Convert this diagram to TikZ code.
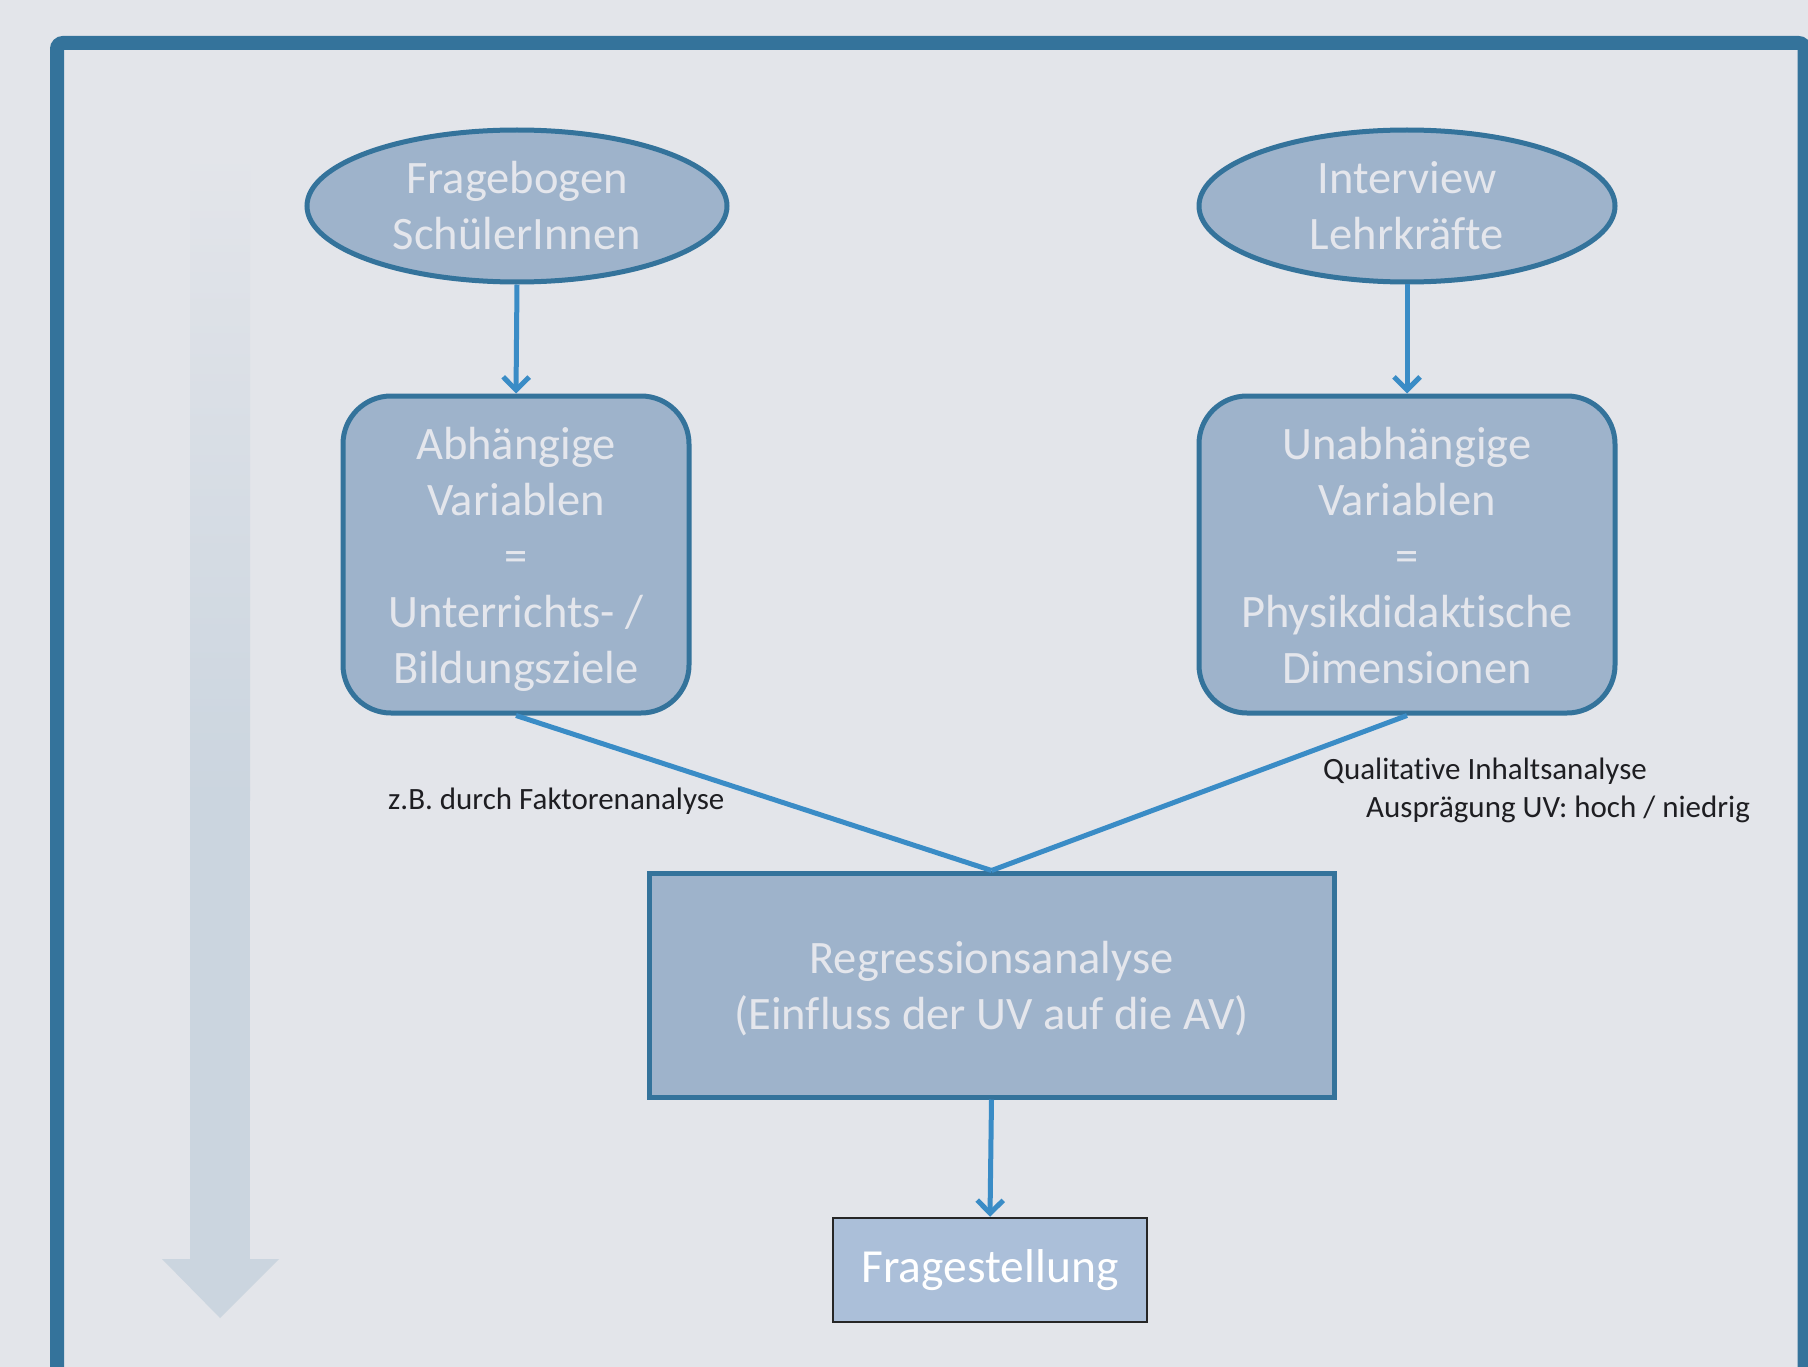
\documentclass[tikz,border=0pt]{standalone}
\usepackage{fontspec}
\setmainfont{Carlito}[Ligatures={NoCommon}]
\usetikzlibrary{shapes.geometric,arrows.meta}
\definecolor{bg}{RGB}{227,229,234}
\definecolor{framecol}{RGB}{52,115,155}
\definecolor{nodefill}{RGB}{158,179,203}
\definecolor{nodetext}{RGB}{228,230,236}
\definecolor{arrowblue}{RGB}{58,140,198}
\definecolor{bigarrow}{RGB}{203,213,223}
\definecolor{fragefill}{RGB}{171,191,217}
\definecolor{labeltext}{RGB}{30,30,34}
\tikzset{
  bigtext/.style={font=\fontsize{46.5}{56}\selectfont, text=nodetext, align=center},
  ellnode/.style={ellipse, draw=framecol, line width=5pt, fill=nodefill, inner sep=0pt, bigtext},
  roundbox/.style={rectangle, rounded corners=48pt, draw=framecol, line width=5pt, fill=nodefill, inner sep=0pt, bigtext},
  sqbox/.style={rectangle, draw=framecol, line width=5pt, fill=nodefill, inner sep=0pt, bigtext},
  fragebox/.style={rectangle, draw=black!85, line width=2.5pt, fill=fragefill, inner sep=0pt, font=\fontsize{47.5}{56}\selectfont, text=white},
  conn/.style={draw=arrowblue, line width=5pt},
  connarrow/.style={conn, -{Straight Barb[length=13pt,width=26pt]}},
  smalllabel/.style={font=\fontsize{31}{36}\selectfont, text=labeltext, inner sep=0pt, anchor=base west}
}
\begin{document}
\begin{tikzpicture}[x=1pt,y=-1pt]
\useasboundingbox (0,0) rectangle (1808,1367);
\fill[bg] (0,0) rectangle (1808,1367);
\begin{scope}
\clip (0,0) rectangle (1808,1367);
\draw[framecol, line width=14pt, rounded corners=6pt] (57,1420) -- (57,43) -- (1804.5,43) -- (1804.5,1420);
% big background arrow
\shade[top color=bg, bottom color=bigarrow] (190,150) rectangle (250,800);
\fill[bigarrow] (190,799) rectangle (250,1260);
\fill[bigarrow] (162,1259) -- (279,1259) -- (220,1318) -- cycle;
\end{scope}

\node[ellnode, minimum width=420pt, minimum height=152pt] (e1) at (517,206) {Fragebogen\\SchülerInnen};
\node[ellnode, minimum width=416pt, minimum height=152pt] (e2) at (1407,206) {Interview\\Lehrkräfte};

\node[roundbox, minimum width=346pt, minimum height=317pt] (b1) at (516,554.5) {\rule{0pt}{42pt}Abhängige\\Variablen\\=\\Unterrichts- /\\Bildungsziele};
\node[roundbox, minimum width=416pt, minimum height=317pt] (b2) at (1407,554.5) {\rule{0pt}{42pt}Unabhängige\\Variablen\\=\\Physikdidaktische\\Dimensionen\vphantom{g}};

\node[sqbox, minimum width=685pt, minimum height=224pt] (r) at (991.5,985) {\rule{0pt}{39pt}Regressionsanalyse\\(Einfluss der UV auf die AV)};
\node[fragebox, minimum width=314pt, minimum height=104pt] (f) at (990,1270) {Fragestellung};

\draw[connarrow] (e1.south) -- (b1.north);
\draw[connarrow] (e2.south) -- (b2.north);
\draw[conn] (b1.south) -- (r.north);
\draw[conn] (b2.south) -- (r.north);
\draw[connarrow] (r.south) -- (f.north);

\node[smalllabel] (l1) at (388,809) {z.B. durch Faktorenanalyse};
\node[smalllabel] (l2) at (1323,779) {Qualitative Inhaltsanalyse};
\node[smalllabel] (l3) at (1366,817) {Ausprägung UV: hoch / niedrig};
\end{tikzpicture}
\end{document}
